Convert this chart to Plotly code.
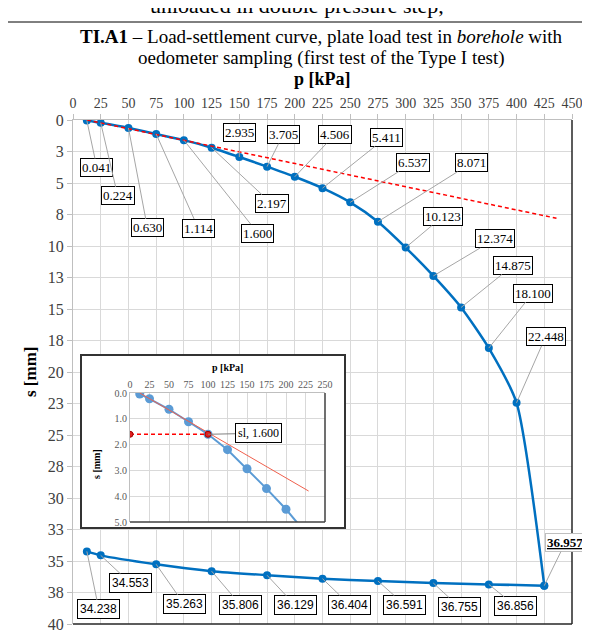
import plotly.graph_objects as go

# ---------------- data ----------------
p_load = [12.5, 25, 50, 75, 100, 125, 150, 175, 200, 225, 250, 275, 300, 325, 350, 375, 400, 425]
s_load = [0.041, 0.224, 0.630, 1.114, 1.600, 2.197, 2.935, 3.705, 4.506, 5.411, 6.537, 8.071,
          10.123, 12.374, 14.875, 18.100, 22.448, 36.957]
p_unload = [375, 325, 275, 225, 175, 125, 75, 25, 12.5]
s_unload = [36.856, 36.755, 36.591, 36.404, 36.129, 35.806, 35.263, 34.553, 34.238]

p_red = [12.5, 436]
s_red = [0.0, 7.8]

p_inset = p_load[:10]
s_inset = s_load[:10]
p_inset_red = [12.5, 229]
s_inset_red = [0.0, 3.8]
p_sl = [0, 100]
s_sl = [1.6, 1.6]

x_tickvals = list(range(0, 451, 25))
y_tickvals = [0, 2.5, 5, 7.5, 10, 12.5, 15, 17.5, 20, 22.5, 25, 27.5, 30, 32.5, 35, 37.5, 40]
y_ticktext = ["0", "3", "5", "8", "10", "13", "15", "18", "20", "23", "25", "28", "30", "33", "35", "38", "40"]
inset_xticks = list(range(0, 251, 25))
inset_yticks = [0, 1, 2, 3, 4, 5]

# label offsets (pixels, box centre relative to point)
load_offsets = [(10, 47), (17, 73), (19, 100), (42, 94), (74, 93), (60, 56), (0, -24), (16, -32),
                (40, -42), (64, -51), (63, -40), (94, -59), (37, -31), (62, -37), (52, -42),
                (44, -55), (29, -66), (21, -43)]
unload_offsets = [(27, 22), (26, 24), (27, 24), (27, 26), (28, 30), (29, 34), (28, 40), (30, 28), (12, 58)]

SERIF = "Liberation Serif"
SANS = "Liberation Sans"
BLUE = "#0070C0"
LBLUE = "#5B9BD5"

fig = go.Figure()

# main curve (loading + unloading branches)
fig.add_trace(go.Scatter(
    x=p_load, y=s_load, mode="lines+markers",
    line=dict(color=BLUE, width=2.5, shape="spline", smoothing=0.6),
    marker=dict(color=BLUE, size=8), showlegend=False, hoverinfo="skip"))
fig.add_trace(go.Scatter(
    x=[p_load[-1]] + p_unload, y=[s_load[-1]] + s_unload, mode="lines+markers",
    line=dict(color=BLUE, width=2.5, shape="spline", smoothing=0.6),
    marker=dict(color=BLUE, size=8), showlegend=False, hoverinfo="skip"))
fig.add_trace(go.Scatter(
    x=p_red, y=s_red, mode="lines",
    line=dict(color="#FF0000", width=1.5, dash="4px,3px"), showlegend=False, hoverinfo="skip"))

# dummy subplot for inset white box
fig.add_trace(go.Scatter(x=[None], y=[None], xaxis="x2", yaxis="y2", showlegend=False))

# inset traces
fig.add_trace(go.Scatter(
    x=p_inset, y=s_inset, mode="lines+markers", xaxis="x3", yaxis="y3",
    line=dict(color=LBLUE, width=2), marker=dict(color=LBLUE, size=9),
    showlegend=False, hoverinfo="skip"))
fig.add_trace(go.Scatter(
    x=p_inset_red, y=s_inset_red, mode="lines", xaxis="x3", yaxis="y3",
    line=dict(color="#F0604D", width=1), showlegend=False, hoverinfo="skip"))
fig.add_trace(go.Scatter(
    x=p_sl, y=s_sl, mode="lines+markers", xaxis="x3", yaxis="y3",
    line=dict(color="#FF0000", width=1.5, dash="4px,3px"),
    marker=dict(color="#E02020", size=6, line=dict(color="#A00000", width=1)),
    showlegend=False, hoverinfo="skip"))

annotations = []
for (p, s), (ax, ay) in zip(zip(p_load, s_load), load_offsets):
    last = (p == 425)
    t = f"{s:.3f}"
    annotations.append(dict(
        x=p, y=s, xref="x", yref="y",
        text=(f"<b><span style='text-decoration:underline'>{t}</span></b>" if last else t),
        showarrow=True, arrowhead=0, arrowwidth=1, arrowcolor="#A6A6A6", ax=ax, ay=ay, standoff=0,
        font=dict(family=SERIF, size=13, color="#000000"),
        bgcolor="#FFFFFF", bordercolor=("#BFBFBF" if last else "#000000"), borderwidth=1, borderpad=1))
for (p, s), (ax, ay) in zip(zip(p_unload, s_unload), unload_offsets):
    annotations.append(dict(
        x=p, y=s, xref="x", yref="y", text=f"{s:.3f}",
        showarrow=True, arrowhead=0, arrowwidth=1, arrowcolor="#A6A6A6", ax=ax, ay=ay, standoff=0,
        font=dict(family=SANS, size=12, color="#000000"),
        bgcolor="#FFFFFF", bordercolor="#000000", borderwidth=1, borderpad=2))

# inset label
annotations.append(dict(
    x=p_sl[1], y=s_sl[1], xref="x3", yref="y3", text="sl, 1.600",
    showarrow=True, arrowhead=0, arrowwidth=1, arrowcolor="#808080", ax=50, ay=-1, standoff=0,
    font=dict(family=SERIF, size=12, color="#000000"),
    bgcolor="#FFFFFF", bordercolor="#000000", borderwidth=1, borderpad=2))

# page pixel helpers (plot area spans x 73..572, y 120..624 on the page)
H = 504.0
W = 499.0
def py(pix):
    return 1 + (120 - pix) / H
def px(pix):
    return (pix - 73) / W

def label(xp, yp, text, size, angle=0):
    return dict(x=px(xp), y=py(yp), xref="paper", yref="paper", showarrow=False,
                xanchor="center", yanchor="middle", textangle=angle,
                text=text, font=dict(family=SERIF, size=size, color="#000"))

annotations += [
    label(297, 6, "unloaded in double pressure step,", 22),
    label(321, 37, "<b>TI.A1</b> – Load-settlement curve, plate load test in <i>borehole</i> with", 19),
    label(321, 58, "oedometer sampling (first test of the Type I test)", 19),
    label(322, 79, "<b>p [kPa]</b>", 18),
    label(30, 372, "<b>s [mm]</b>", 17, -90),
    label(227, 367, "<b>p [kPa]</b>", 10),
    label(96, 464, "<b>s [mm]</b>", 10, -90),
]

shapes = [
    dict(type="rect", xref="paper", yref="paper", x0=px(2), x1=px(588), y0=py(650), y1=py(22),
         line=dict(color="#000000", width=1), layer="above"),
    dict(type="line", xref="paper", yref="paper", x0=1, x1=1, y0=0, y1=1,
         line=dict(color="#262626", width=1.5), layer="above"),
    dict(type="line", xref="paper", yref="paper", x0=0, x1=1, y0=0, y1=0,
         line=dict(color="#262626", width=1.5), layer="above"),
    dict(type="rect", xref="paper", yref="paper", x0=px(81), x1=px(345), y0=py(528), y1=py(355),
         line=dict(color="#333333", width=2), layer="above"),
    dict(type="line", xref="paper", yref="paper", x0=px(325), x1=px(325), y0=py(522), y1=py(393),
         line=dict(color="#404040", width=1.5), layer="above"),
    dict(type="line", xref="paper", yref="paper", x0=px(130), x1=px(325), y0=py(522), y1=py(522),
         line=dict(color="#404040", width=1.5), layer="above"),
]

# the page body adds an 8px offset; compensate so the plot area lands at page x 73, y 120
OFF = 8
fig.update_layout(
    template="none",
    width=590 - OFF, height=635 - OFF, autosize=False,
    margin=dict(l=73 - OFF, r=18, t=120 - OFF, b=11, pad=0),
    paper_bgcolor="#FFFFFF", plot_bgcolor="#FFFFFF",
    showlegend=False,
    annotations=annotations, shapes=shapes,
    xaxis=dict(domain=[0, 1], range=[0, 450], side="top", tickvals=x_tickvals, automargin=False,
               showgrid=True, gridcolor="#D9D9D9", gridwidth=1, zeroline=False,
               showline=True, linecolor="#BFBFBF", ticks="outside", ticklen=5, tickcolor="#BFBFBF",
               tickfont=dict(family=SERIF, size=14, color="#404040"), anchor="y"),
    yaxis=dict(domain=[0, 1], range=[40, 0], tickvals=y_tickvals, ticktext=y_ticktext, automargin=False,
               showgrid=True, gridcolor="#D9D9D9", gridwidth=1, zeroline=False,
               showline=True, linecolor="#BFBFBF", ticks="outside", ticklen=5, tickcolor="#BFBFBF",
               tickfont=dict(family=SERIF, size=16, color="#404040"), anchor="x"),
    xaxis2=dict(domain=[px(81), px(345)], range=[0, 1], visible=False, anchor="y2", automargin=False),
    yaxis2=dict(domain=[py(528), py(355)], range=[0, 1], visible=False, anchor="x2", automargin=False),
    xaxis3=dict(domain=[px(130), px(325)], range=[0, 250], side="top", tickvals=inset_xticks,
                automargin=False, showgrid=True, gridcolor="#D9D9D9", zeroline=False, showline=True,
                linecolor="#BFBFBF", ticks="", tickfont=dict(family=SERIF, size=10, color="#595959"),
                anchor="y3"),
    yaxis3=dict(domain=[py(522), py(393)], range=[5, 0], tickvals=inset_yticks, tickformat=".1f",
                automargin=False, showgrid=True, gridcolor="#D9D9D9", zeroline=False, showline=True,
                linecolor="#BFBFBF", ticks="", tickfont=dict(family=SERIF, size=10, color="#595959"),
                anchor="x3"),
)

fig.write_html("out.html")
